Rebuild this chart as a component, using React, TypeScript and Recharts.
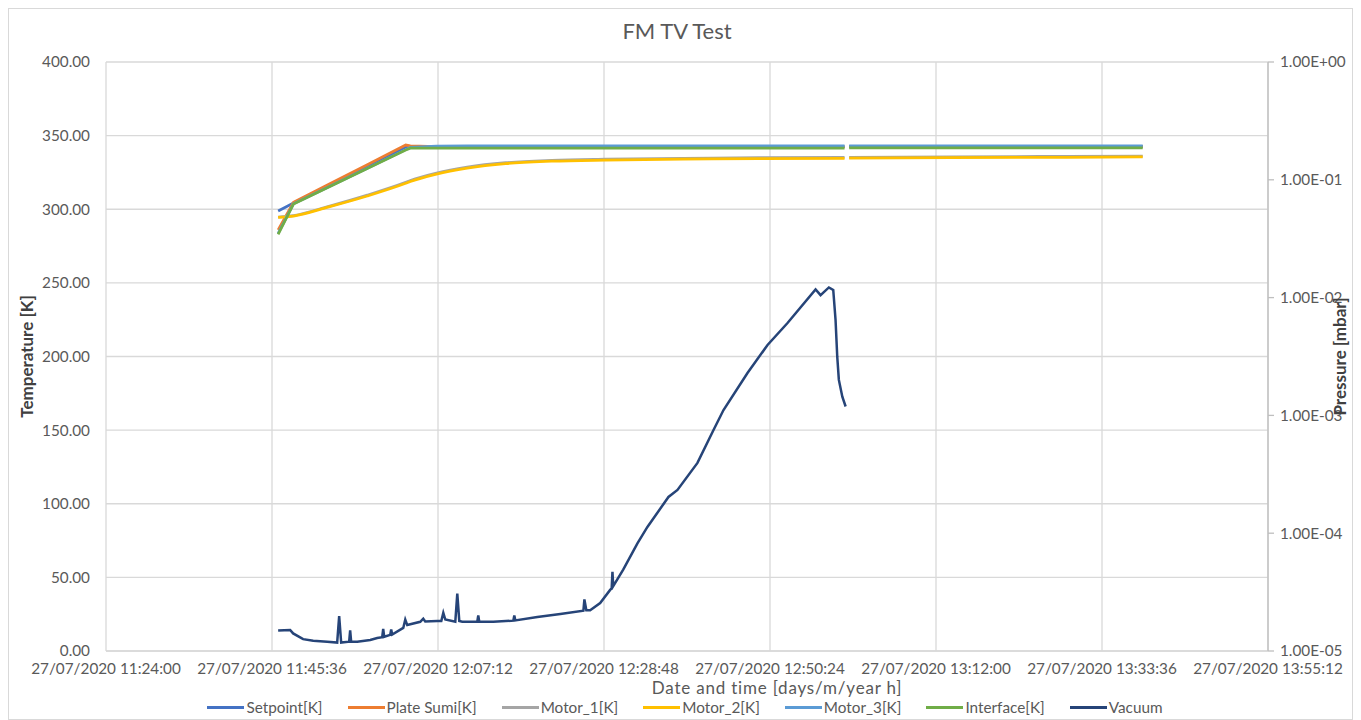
import { LineChart, Line, XAxis, YAxis, CartesianGrid, Label } from "recharts"

// x values are minutes after 27/07/2020 11:24:00
const xTicks = [0, 21.6, 43.2, 64.8, 86.4, 108, 129.6, 151.2]
const tempTicks = [0, 50, 100, 150, 200, 250, 300, 350, 400]
const pressureTicks = [1e-5, 1e-4, 1e-3, 1e-2, 1e-1, 1]

const tempMinutes = [22.4, 24.4, 29, 34, 39.0, 39.6, 43, 47, 52, 58, 65, 75, 85, 96.1, 96.4, 96.7, 110, 125, 134.9]
const setpointK = [298.8, 304.2, 316.3, 329.4, 342.3, 342.7, 342.6, 342.6, 342.6, 342.6, 342.6, 342.6, 342.6, 342.6, null, 342.7, 342.7, 342.7, 342.7]
const plateSumiK = [286.0, 304.8, 317.0, 330.2, 343.6, 343.0, 342.5, 342.4, 342.4, 342.4, 342.4, 342.4, 342.4, 342.4, null, 342.5, 342.5, 342.5, 342.5]
const motor1K = [294.7, 295.7, 302.0, 309.6, 318.3, 319.5, 324.6, 328.6, 331.6, 333.2, 334.0, 334.6, 335.0, 335.2, null, 335.3, 335.6, 335.9, 336.1]
const motor2K = [294.5, 295.4, 301.6, 309.0, 317.6, 318.8, 323.9, 327.9, 331.0, 332.6, 333.4, 334.0, 334.4, 334.6, null, 334.7, 335.0, 335.3, 335.5]
const motor3K = [283.6, 303.7, 315.3, 327.9, 340.5, 342.0, 342.9, 343.0, 343.0, 343.0, 343.0, 343.0, 343.0, 343.0, null, 343.1, 343.1, 343.1, 343.1]
const interfaceK = [283.0, 303.6, 315.1, 327.7, 340.3, 341.5, 341.5, 341.5, 341.5, 341.5, 341.5, 341.5, 341.5, 341.5, null, 341.6, 341.6, 341.6, 341.6]

const vacuumMinutes = [
  22.4, 23.2, 23.96, 24.35, 25.65, 26.96, 28.78, 30.08, 30.34, 30.6,
  31.64, 31.77, 31.9, 32.69, 34.38, 35.29, 35.94, 36.07, 36.2, 36.98,
  37.11, 37.24, 38.68, 38.94, 39.2, 40.89, 41.28, 41.54, 43.1, 43.63,
  43.89, 44.15, 45.45, 45.71, 45.97, 46.36, 48.31, 48.44, 48.57, 50.4,
  53.0, 53.13, 53.26, 56.13, 59.12, 62.12, 62.25, 62.5, 63.0, 64.3,
  65.6, 65.8, 65.9, 66.0, 67.3, 69.15, 70.45, 73.19, 74.36, 76.96,
  79.05, 80.35, 83.47, 86.08, 88.68, 92.33, 92.98, 94.06, 94.63, 94.93,
  95.15, 95.36, 95.81, 96.24,
]
const vacuumMbar = [
  1.49e-5, 1.5e-5, 1.51e-5, 1.41e-5, 1.26e-5, 1.22e-5, 1.2e-5, 1.18e-5, 1.98e-5, 1.18e-5,
  1.2e-5, 1.5e-5, 1.2e-5, 1.2e-5, 1.24e-5, 1.29e-5, 1.31e-5, 1.54e-5, 1.32e-5, 1.37e-5,
  1.52e-5, 1.38e-5, 1.57e-5, 1.85e-5, 1.66e-5, 1.77e-5, 1.88e-5, 1.78e-5, 1.8e-5, 1.8e-5,
  2.11e-5, 1.85e-5, 1.77e-5, 3.07e-5, 1.8e-5, 1.77e-5, 1.77e-5, 2.0e-5, 1.77e-5, 1.77e-5,
  1.81e-5, 2.0e-5, 1.82e-5, 1.94e-5, 2.06e-5, 2.2e-5, 2.74e-5, 2.22e-5, 2.22e-5, 2.55e-5,
  3.3e-5, 3.4e-5, 4.7e-5, 3.55e-5, 4.9e-5, 8.2e-5, 1.13e-4, 2.03e-4, 2.33e-4, 3.95e-4,
  7.52e-4, 1.11e-3, 2.29e-3, 3.96e-3, 6.09e-3, 1.175e-2, 1.05e-2, 1.22e-2, 1.16e-2, 6.46e-3,
  3.15e-3, 2.0e-3, 1.44e-3, 1.19e-3,
]

const tempRows = tempMinutes.map((t, i) => ({
  t,
  setpoint: setpointK[i],
  plate: plateSumiK[i],
  motor1: motor1K[i],
  motor2: motor2K[i],
  motor3: motor3K[i],
  iface: interfaceK[i],
}))

const vacuumRows = vacuumMinutes.map((t, i) => ({ t, vacuum: vacuumMbar[i] }))

const series = [
  { key: "setpoint", name: "Setpoint[K]", color: "#4472C4", curve: "linear" },
  { key: "plate", name: "Plate Sumi[K]", color: "#ED7D31", curve: "linear" },
  { key: "motor1", name: "Motor_1[K]", color: "#A5A5A5", curve: "monotone" },
  { key: "motor2", name: "Motor_2[K]", color: "#FFC000", curve: "monotone" },
  { key: "motor3", name: "Motor_3[K]", color: "#5B9BD5", curve: "linear" },
  { key: "iface", name: "Interface[K]", color: "#70AD47", curve: "linear" },
]
const vacuumColor = "#264478"

const FONT = "Lato, 'Open Sans', sans-serif"
const TEXT = "#595959"
const GRID = "#d9d9d9"

const pad = (n: number) => String(n).padStart(2, "0")
const formatTime = (m: number) => {
  const s = Math.round(41040 + m * 60)
  return `27/07/2020 ${pad(Math.floor(s / 3600))}:${pad(Math.floor((s % 3600) / 60))}:${pad(s % 60)}`
}
const formatSci = (v: number) => {
  const [mant, exp] = v.toExponential(2).split("e")
  const e = parseInt(exp, 10)
  return `${mant}E${e < 0 ? "-" : "+"}${pad(Math.abs(e))}`
}

export default function App() {
  const tick = { fill: TEXT, fontSize: 15.3, fontFamily: FONT }
  const axisTitle = { textAnchor: "middle", fill: "#404040", fontSize: 17, fontWeight: 700, fontFamily: FONT }
  return (
    <div
      style={{
        position: "relative",
        width: 1345,
        height: 712,
        border: `1px solid ${GRID}`,
        boxSizing: "border-box",
        fontFamily: FONT,
        background: "#fff",
      }}
    >
      <div
        style={{
          position: "absolute",
          top: 10,
          left: 0,
          width: 1336,
          textAlign: "center",
          fontSize: 22,
          lineHeight: "24px",
          color: TEXT,
        }}
      >
        FM TV Test
      </div>
      <LineChart
        width={1343}
        height={700}
        data={tempRows}
        margin={{ top: 53, right: 14, bottom: 28, left: 37 }}
        style={{ position: "absolute", top: 0, left: 0 }}
      >
        <CartesianGrid stroke={GRID} strokeWidth={1.3} yAxisId="temp" />
        <XAxis
          dataKey="t"
          type="number"
          domain={[0, 151.2]}
          ticks={xTicks}
          interval={0}
          allowDataOverflow
          tickFormatter={formatTime}
          tick={tick}
          tickLine={false}
          tickSize={6}
          tickMargin={6}
          height={30}
          stroke={GRID}
          strokeWidth={1.3}
        >
          <Label
            value="Date and time [days/m/year h]"
            position="bottom"
            offset={1}
            dx={90}
            style={{ fill: TEXT, fontSize: 17, letterSpacing: 0.8, fontFamily: FONT }}
          />
        </XAxis>
        <YAxis
          yAxisId="temp"
          domain={[0, 400]}
          ticks={tempTicks}
          interval={0}
          tickFormatter={(v: number) => v.toFixed(2)}
          tick={tick}
          axisLine={false}
          tickLine={false}
          tickSize={6}
          tickMargin={10}
          width={60}
        >
          <Label value="Temperature [K]" angle={-90} position="left" offset={19} style={axisTitle} />
        </YAxis>
        <YAxis
          yAxisId="p"
          orientation="right"
          scale="log"
          type="number"
          domain={[1e-5, 1]}
          ticks={pressureTicks}
          interval={0}
          allowDataOverflow
          tickFormatter={formatSci}
          tick={tick}
          stroke="#bfbfbf"
          strokeWidth={1.3}
          tickSize={6}
          tickMargin={6}
          width={70}
        >
          <Label value="Pressure [mbar]" angle={-90} position="right" offset={2} style={axisTitle} />
        </YAxis>
        {series.map((s) => (
          <Line
            key={s.key}
            yAxisId="temp"
            dataKey={s.key}
            name={s.name}
            type={s.curve as "linear" | "monotone"}
            stroke={s.color}
            strokeWidth={2.75}
            dot={false}
            activeDot={false}
            isAnimationActive={false}
          />
        ))}
        <Line
          yAxisId="p"
          data={vacuumRows}
          dataKey="vacuum"
          name="Vacuum"
          type="linear"
          stroke={vacuumColor}
          strokeWidth={2.5}
          dot={false}
          activeDot={false}
          isAnimationActive={false}
        />
      </LineChart>
      <div
        style={{
          position: "absolute",
          top: 690,
          left: 0,
          width: 1343,
          display: "flex",
          justifyContent: "center",
          paddingLeft: 9,
          boxSizing: "border-box",
          gap: 25,
          fontSize: 15.3,
          lineHeight: "17px",
          color: TEXT,
        }}
      >
        {[...series.map((s) => ({ name: s.name, color: s.color })), { name: "Vacuum", color: vacuumColor }].map((it) => (
          <div key={it.name} style={{ display: "flex", alignItems: "center" }}>
            <span style={{ display: "inline-block", width: 37, height: 3, background: it.color, marginRight: 2 }} />
            <span>{it.name}</span>
          </div>
        ))}
      </div>
    </div>
  )
}
